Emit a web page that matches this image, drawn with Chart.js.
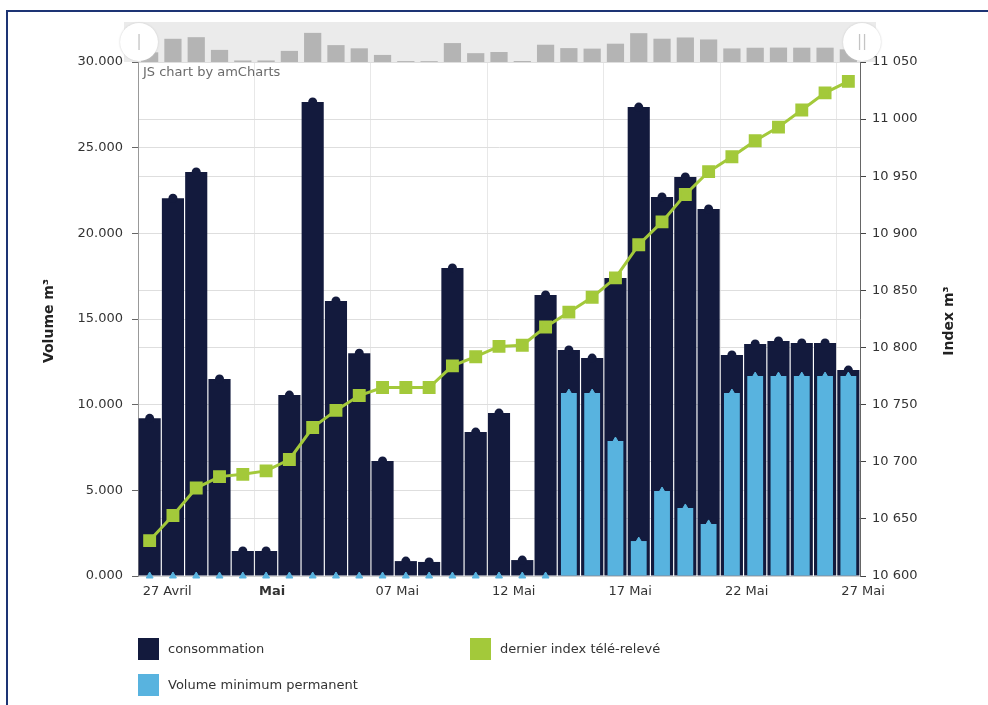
<!DOCTYPE html>
<html lang="fr">

<head>
    <meta charset="UTF-8">
    <meta name="viewport" content="width=device-width, initial-scale=1.0">
    <title>Consommation</title>
    <script src="https://cdn.jsdelivr.net/npm/chart.js"></script>
    <style>
        body {
            margin: 0;
            width: 988px;
            height: 705px;
            overflow: hidden;
            background: #fff;
            font-family: "DejaVu Sans", Verdana, sans-serif;
            position: relative;
        }

        #cadre {
            position: absolute;
            left: 6px;
            top: 10px;
            width: 1000px;
            height: 720px;
            border: 2px solid #1d3474;
        }

        #main {
            position: absolute;
            left: 0;
            top: 0;
        }

        #bande {
            position: absolute;
            left: 124px;
            top: 22px;
            width: 752px;
            height: 40px;
            background: #ebebeb;
        }

        #mini {
            position: absolute;
            left: 138px;
            top: 22px;
        }

        .poignee {
            position: absolute;
            width: 38px;
            height: 38px;
            border-radius: 50%;
            background: #fff;
            box-shadow: 0 0 2px #c8c8c8;
            color: #c4c4c4;
            text-align: center;
            line-height: 36px;
            font-size: 15px;
        }

        .leg {
            position: absolute;
            font-size: 13px;
            color: #333;
            height: 22px;
            line-height: 22px;
        }

        .leg span {
            display: inline-block;
            width: 21px;
            height: 22px;
            vertical-align: top;
            margin-right: 9px;
        }
    </style>
</head>

<body>
    <div id="cadre"></div>
    <div id="bande"></div>
    <canvas id="mini" width="722" height="40"></canvas>
    <canvas id="main" width="988" height="705"></canvas>
    <div class="poignee" style="left:120px;top:23px;">|</div>
    <div class="poignee" style="left:843px;top:23px;">||</div>

    <div class="leg" style="left:138px;top:638px;"><span style="background:#131a3d"></span>consommation</div>
    <div class="leg" style="left:470px;top:638px;"><span style="background:#a3c93a"></span>dernier index télé-relevé</div>
    <div class="leg" style="left:138px;top:674px;"><span style="background:#58b3df"></span>Volume minimum permanent</div>

    <script>
        // jours du 27 avril au 27 mai
        const jours = ['27/04', '28/04', '29/04', '30/04', '01/05', '02/05', '03/05', '04/05', '05/05', '06/05',
            '07/05', '08/05', '09/05', '10/05', '11/05', '12/05', '13/05', '14/05', '15/05', '16/05',
            '17/05', '18/05', '19/05', '20/05', '21/05', '22/05', '23/05', '24/05', '25/05', '26/05', '27/05'];
        const etiquettes = ['27 Avril', 'Mai', '07 Mai', '12 Mai', '17 Mai', '22 Mai', '27 Mai'];

        const consommation = [9200, 22050, 23580, 11500, 1460, 1460, 10560, 27670, 16050, 13000,
            6710, 870, 820, 17980, 8400, 9510, 930, 16400, 13190, 12720,
            17390, 27370, 22120, 23290, 21420, 12900, 13540, 13720, 13600, 13600, 12020];
        const volumeMinimum = [0, 0, 0, 0, 0, 0, 0, 0, 0, 0,
            0, 0, 0, 0, 0, 0, 0, 0, 10680, 10680,
            7880, 2040, 4960, 3970, 3040, 10680, 11670, 11670, 11670, 11670, 11670];
        const dernierIndex = [10631, 10653, 10677, 10687, 10689, 10692, 10702, 10730, 10745, 10758,
            10765, 10765, 10765, 10784, 10792, 10801, 10802, 10818, 10831, 10844,
            10861, 10890, 10910, 10934, 10954, 10967, 10981, 10993, 11008, 11023, 11033];

        const marine = '#131a3d';
        const bleu = '#58b3df';
        const vert = '#a3c93a';
        const police = '"DejaVu Sans", Verdana, sans-serif';

        Chart.defaults.font.family = police;
        Chart.defaults.color = '#333';

        function espace(v) {
            return String(v).replace(/\B(?=(\d{3})+(?!\d))/g, ' ');
        }

        // titres des axes + mention amCharts
        const titres = {
            id: 'titres',
            afterDraw(chart) {
                const { ctx, chartArea } = chart;
                const milieu = (chartArea.top + chartArea.bottom) / 2 + 2;
                ctx.save();
                ctx.font = 'bold 14px ' + police;
                ctx.fillStyle = '#222';
                ctx.textAlign = 'center';
                ctx.textBaseline = 'middle';
                [[49, 'Volume m³'], [949, 'Index m³']].forEach(function (t) {
                    ctx.save();
                    ctx.translate(t[0], milieu);
                    ctx.rotate(-Math.PI / 2);
                    ctx.fillText(t[1], 0, 0);
                    ctx.restore();
                });
                ctx.font = '13px ' + police;
                ctx.fillStyle = '#6b6b6b';
                ctx.textAlign = 'left';
                ctx.textBaseline = 'top';
                ctx.fillText('JS chart by amCharts', chartArea.left + 5, chartArea.top + 4);
                ctx.restore();
            }
        };

        new Chart(document.getElementById('main'), {
            type: 'bar',
            data: {
                labels: jours,
                datasets: [{
                    type: 'line',
                    label: 'dernier index télé-relevé',
                    data: dernierIndex,
                    yAxisID: 'y1',
                    borderColor: vert,
                    backgroundColor: vert,
                    borderWidth: 3,
                    pointStyle: 'rect',
                    pointRadius: 7,
                    order: 0
                }, {
                    type: 'line',
                    data: volumeMinimum,
                    yAxisID: 'y',
                    showLine: false,
                    pointStyle: 'triangle',
                    pointRadius: 4,
                    backgroundColor: bleu,
                    borderColor: bleu,
                    borderWidth: 1,
                    clip: false,
                    order: 1
                }, {
                    label: 'Volume minimum permanent',
                    data: volumeMinimum,
                    yAxisID: 'y',
                    backgroundColor: bleu,
                    barPercentage: 0.68,
                    categoryPercentage: 1,
                    grouped: false,
                    order: 2
                }, {
                    type: 'line',
                    data: consommation,
                    yAxisID: 'y',
                    showLine: false,
                    pointStyle: 'circle',
                    pointRadius: 4.5,
                    backgroundColor: marine,
                    borderColor: marine,
                    borderWidth: 0,
                    order: 3
                }, {
                    label: 'consommation',
                    data: consommation,
                    yAxisID: 'y',
                    backgroundColor: marine,
                    barPercentage: 0.95,
                    categoryPercentage: 1,
                    grouped: false,
                    order: 4
                }]
            },
            options: {
                responsive: false,
                animation: false,
                layout: { padding: { top: 62, left: 0, right: 0, bottom: 0 } },
                plugins: {
                    legend: { display: false },
                    tooltip: { enabled: false }
                },
                scales: {
                    x: {
                        offset: true,
                        grid: {
                            offset: true,
                            drawTicks: false,
                            color: function (c) { return c.index % 5 === 0 ? '#e8e8e8' : 'rgba(0,0,0,0)'; }
                        },
                        border: { color: '#cfcfcf' },
                        ticks: {
                            autoSkip: false,
                            maxRotation: 0,
                            align: 'start',
                            labelOffset: -7,
                            padding: 8,
                            color: '#333',
                            font: function (c) {
                                return { size: 13, weight: c.index === 5 ? 'bold' : 'normal' };
                            },
                            callback: function (v, i) { return i % 5 === 0 ? etiquettes[i / 5] : ''; }
                        },
                        afterFit: function (s) { s.height = 129; }
                    },
                    y: {
                        position: 'left',
                        min: 0,
                        max: 30000,
                        ticks: {
                            stepSize: 5000,
                            padding: 9,
                            font: { size: 13 },
                            callback: function (v) { return (v / 1000).toFixed(3); }
                        },
                        grid: { color: '#dedede', tickColor: '#666', tickLength: 6 },
                        border: { color: '#999' },
                        afterFit: function (s) { s.width = 138; }
                    },
                    y1: {
                        position: 'right',
                        min: 10600,
                        max: 11050,
                        ticks: {
                            stepSize: 50,
                            padding: 6,
                            font: { size: 13 },
                            callback: function (v) { return espace(v); }
                        },
                        grid: { color: '#dedede', tickColor: '#444', tickLength: 6 },
                        border: { color: '#666' },
                        afterFit: function (s) { s.width = 128; }
                    }
                }
            },
            plugins: [titres]
        });

        // barre de défilement (aperçu de la consommation)
        new Chart(document.getElementById('mini'), {
            type: 'bar',
            data: {
                labels: jours,
                datasets: [{
                    data: consommation,
                    backgroundColor: '#b4b4b4',
                    barPercentage: 0.74,
                    categoryPercentage: 1
                }]
            },
            options: {
                responsive: false,
                animation: false,
                plugins: { legend: { display: false }, tooltip: { enabled: false } },
                scales: {
                    x: { display: false, offset: true },
                    y: { display: false, min: 0, max: 38000 }
                }
            }
        });
    </script>
</body>

</html>
